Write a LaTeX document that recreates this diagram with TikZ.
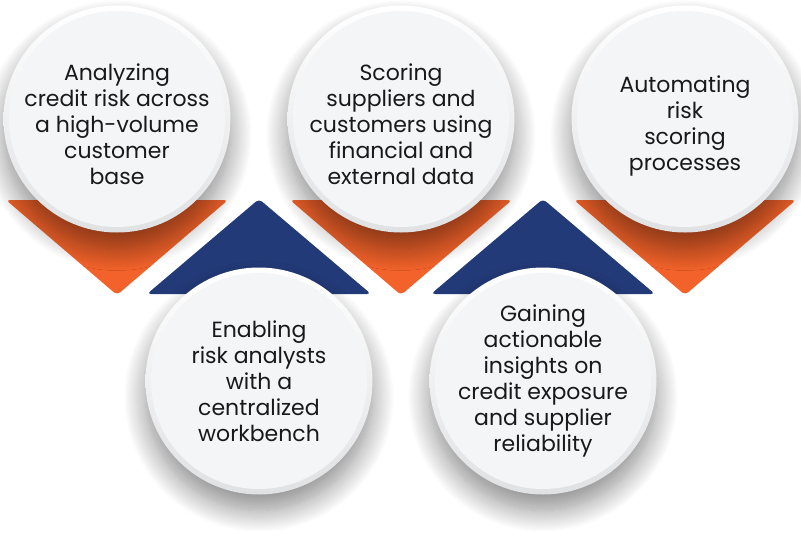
\documentclass[tikz,border=0pt]{standalone}
\usepackage{fontspec}
\setmainfont{Poppins}
\usetikzlibrary{shadows.blur}
\definecolor{brandorange}{HTML}{F2622A}
\definecolor{brandblue}{HTML}{233A78}
\definecolor{cardfill}{HTML}{F4F5F7}
\definecolor{cardrim}{HTML}{E0E1E3}

\begin{document}
\begin{tikzpicture}
      [x = 1pt, y = -1pt,
        card/.style={circle, minimum size = 227pt, inner sep = 0pt,
          top color = white, bottom color = cardrim,
          blur shadow={shadow xshift = 0pt, shadow yshift = -16pt,
            shadow blur radius = 22pt, shadow blur steps = 20, shadow opacity = 45},
          path picture={\fill[cardfill] (path picture bounding box.center) circle (108pt);}},
        cardtext/.style={align = center, text = black!90,
          font = \fontsize{22}{26}\selectfont},
        downtri/.style={fill = brandorange, rounded corners = 4pt},
        uptri/.style={fill = brandblue, rounded corners = 4pt}]
      \useasboundingbox (0,0) rectangle (801,539);
      % orange wedges under the top row
      \fill[downtri] (6,200) -- (228,200) -- (117,295) -- cycle;
      \fill[downtri] (290,200) -- (512,200) -- (401,295) -- cycle;
      \fill[downtri] (574,200) -- (796,200) -- (685,295) -- cycle;
      % top row
      \node[card] (analyzing) at (117,119) {};
      \node[card] (scoring) at (401,119) {};
      \node[card] (automating) at (685,119) {};
      \node[cardtext] at ([yshift=-5pt]analyzing.center)
        {Analyzing\\credit risk across\\a high-volume\\customer\\base};
      \node[cardtext] at ([yshift=-5pt]scoring.center)
        {Scoring\\suppliers and\\customers using\\financial and\\external data};
      \node[cardtext] at ([yshift=-7pt]automating.center)
        {Automating\\risk\\scoring\\processes};
      % blue wedges under the bottom row
      \fill[uptri] (147,294) -- (371,294) -- (259,199) -- cycle;
      \fill[uptri] (431,294) -- (655,294) -- (543,199) -- cycle;
      % bottom row
      \node[card] (enabling) at (259,381) {};
      \node[card] (gaining) at (543,381) {};
      \node[cardtext] at (enabling.center)
        {Enabling\\risk analysts\\with a\\centralized\\workbench};
      \node[cardtext] at (gaining.center)
        {Gaining\\actionable\\insights on\\credit exposure\\and supplier\\reliability};
    \end{tikzpicture}
\end{document}
